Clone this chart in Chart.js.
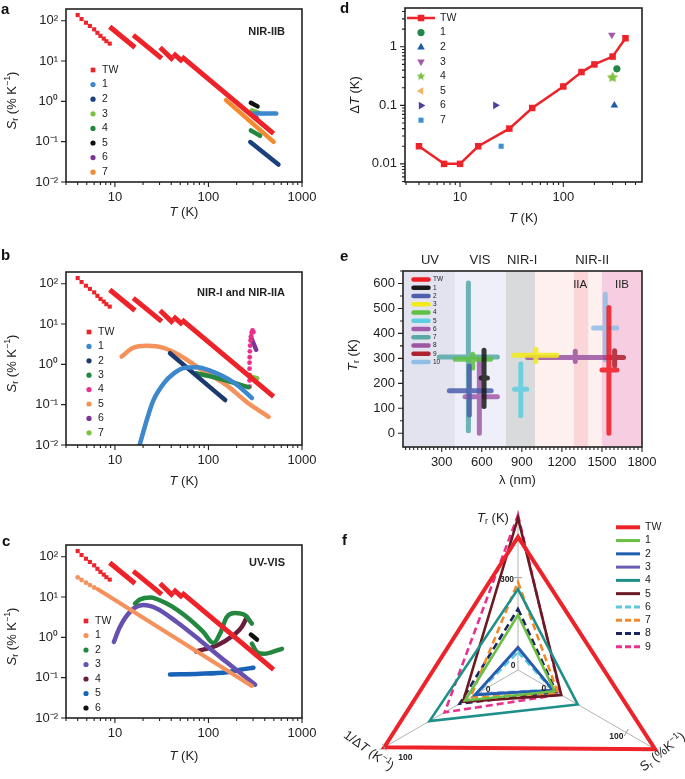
<!DOCTYPE html>
<html>
<head>
<meta charset="utf-8">
<title>Thermometer comparison</title>
<script src="https://cdn.jsdelivr.net/npm/chart.js@4.4.1/dist/chart.umd.min.js"></script>
<style>
  html, body { margin: 0; padding: 0; background: #fff; width: 685px; height: 779px; overflow: hidden; }
  canvas { position: absolute; }
  .tag { position: absolute; font: bold 15px 'Liberation Sans', Arial, sans-serif; line-height: 15px; color: #111; }
</style>
</head>
<body>
<canvas id="pa" width="340" height="240" style="left:0;top:-12px"></canvas>
<canvas id="pb" width="340" height="240" style="left:0;top:251px"></canvas>
<canvas id="pc" width="340" height="240" style="left:0;top:524px"></canvas>
<canvas id="pd" width="345" height="240" style="left:340px;top:-13px"></canvas>
<canvas id="pe" width="345" height="250" style="left:340px;top:250px"></canvas>
<canvas id="pf" width="345" height="350" style="left:340px;top:500px"></canvas>
<div class="tag" style="left:1px;top:1px">a</div>
<div class="tag" style="left:1px;top:247px">b</div>
<div class="tag" style="left:2px;top:533px">c</div>
<div class="tag" style="left:340px;top:0px">d</div>
<div class="tag" style="left:340px;top:248px">e</div>
<div class="tag" style="left:342px;top:532px">f</div>
<script>
const FONT = "'Liberation Sans', Arial, Helvetica, sans-serif";
const INK = '#222';
const RED = '#ee2229';

// ---- TW (this work), shared by a, b, c ----
const twDotT = [4, 4.4, 4.9, 5.4, 6, 6.5, 7, 7.6, 8.1, 8.8];
const twDotS = [138, 110, 89, 74, 61, 50, 42, 36, 31, 27];
const twSegT = [[8.8, 16.4], [15.7, 31.6], [30.4, 42], [42, 53], [51.8, 497]];
const twSegS = [[71, 21.7], [44, 11.6], [21.7, 10.5], [15.4, 9.6], [12.8, 0.158]];

// ---- a : NIR-IIB ----
const aLabels = ['TW', '1', '2', '3', '4', '5', '6', '7'];
const aColors = [RED, '#3d87cc', '#1c3f7e', '#7cc242', '#24873f', '#111111', '#7b3596', '#f28a2e'];
const aT = [null, [280, 530], [280, 560], [290, 345], [284, 356], [284, 335], [293, 330], [154, 497]];
const aS = [null, [0.5, 0.5], [0.098, 0.027], [0.6, 0.52], [0.19, 0.14], [0.92, 0.75], [0.46, 0.38], [1.07, 0.099]];

// ---- b : NIR-I and NIR-IIA ----
const bLabels = ['TW', '1', '2', '3', '4', '5', '6', '7'];
const bColors = [RED, '#3d87cc', '#1c3a6e', '#24873f', '#ea2f8c', '#f5915b', '#7b3596', '#7cc242'];
const b1T = [18.5, 21.8, 25.7, 33, 42, 56, 75, 104, 185, 291];
const b1S = [0.0106, 0.04, 0.126, 0.33, 0.58, 0.82, 0.85, 0.7, 0.36, 0.147];
const b2T = [38.8, 151];
const b2S = [1.89, 0.13];
const b3T = [73.8, 133, 268];
const b3S = [0.6, 0.44, 0.27];
const b4T = [275, 275, 275, 275, 275, 276, 277, 279, 282, 286, 290, 296, 303];
const b4S = [0.28, 0.4, 0.55, 0.78, 1.1, 1.5, 2.1, 2.9, 3.9, 5.0, 6.2, 6.9, 6.3];
const b5T = [11.8, 15.7, 21.8, 33, 49.7, 81.5, 157, 258, 440];
const b5S = [1.56, 2.57, 2.88, 2.57, 1.66, 0.77, 0.3, 0.115, 0.05];
const b6T = [284, 324];
const b6S = [4.7, 2.3];
const b7T = [280, 330];
const b7S = [0.5, 0.45];

// ---- c : UV-VIS ----
const cLabels = ['TW', '1', '2', '3', '4', '5', '6'];
const cColors = [RED, '#f5915b', '#24873f', '#6650b0', '#6b1d3c', '#1862b8', '#111111'];
const c1DotT = [4, 4.4, 4.9, 5.4, 6];
const c1DotS = [30.7, 26.4, 22.7, 19.8, 17.2];
const c1T = [6.5, 291];
const c1S = [15.8, 0.062];
const c2aT = [16.4, 18.5, 23.7, 35.8, 58.6, 88, 113, 133, 157, 193, 247, 291];
const c2aS = [6.9, 8.7, 9.8, 6.9, 3.2, 1.36, 0.72, 1.24, 3.2, 4.0, 3.5, 2.2];
const c2bT = [291, 330, 388, 477, 611];
const c2bS = [0.7, 0.43, 0.39, 0.43, 0.52];
const c3T = [9.75, 11.3, 14.5, 20.1, 27.9, 45.8, 81.5, 157, 316];
const c3S = [0.77, 1.8, 4.3, 6.3, 5.2, 2.4, 0.84, 0.24, 0.067];
const c4T = [73.8, 123, 185, 227, 258];
const c4S = [0.45, 0.63, 1.12, 1.8, 3.2];
const c5T = [38.8, 81.5, 157, 218, 303];
const c5S = [0.12, 0.125, 0.137, 0.157, 0.177];
const c6T = [284, 330];
const c6S = [1.17, 0.88];

// ---- d : temperature resolution ----
const dLabels = ['TW', '1', '2', '3', '4', '5', '6', '7'];
const dColors = [RED, '#22884a', '#1f5ba8', '#a35bab', '#7cc242', '#f2b56b', '#4b3f9e', '#3f8fd2'];
const dTwT = [4, 7, 10, 15, 30, 50, 100, 150, 200, 300, 400];
const dTwDT = [0.02, 0.01, 0.01, 0.02, 0.04, 0.09, 0.21, 0.37, 0.5, 0.68, 1.4];
const dRefT = [330, 312, 295, 300, 296, 22, 25];
const dRefDT = [0.42, 0.1, 1.6, 0.3, 0.3, 0.1, 0.02];
const dMarks = ['circle', 'triangle', 'triangle', 'star', 'triangle', 'triangle', 'rect'];
const dRot = [0, 0, 180, 0, 270, 90, 0];

// ---- e : operating window ----
const eLabels = ['TW', '1', '2', '3', '4', '5', '6', '7', '8', '9', '10'];
const eColors = ['#ee1c25', '#1a1a1a', '#4f5fae', '#f2ea1c', '#5ec044', '#5dcde0', '#a35bab', '#5aa9a8', '#9b56a3', '#b0202e', '#8fbde6'];
const eLamA = [1500, 595, 357, 842, 400, 845, 475, 282, 942, 1525, 1437];
const eLamB = [1612, 642, 670, 1162, 667, 937, 717, 717, 1550, 1662, 1612];
const eTH = [253, 221, 170, 313, 296, 176, 146, 306, 304, 304, 422];
const eLamV = [1552, 617, 507, 1005, 532, 892, 582, 500, 1300, 1595, 1525];
const eTlo = [0, 107, 73, 287, 261, 70, 0, 10, 287, 271, 293];
const eThi = [504, 333, 269, 337, 317, 277, 293, 602, 329, 331, 557];
const eBandFrom = [10, 400, 780, 1000, 1290, 1400, 1500];
const eBandTo = [400, 780, 1000, 1290, 1400, 1500, 1800];
const eBandColor = ['#e2e3ef', '#eeeff8', '#d9dadb', '#fdf0ef', '#fad6d9', '#fdf0ef', '#f7cde1'];
const eZoneText = ['UV', 'VIS', 'NIR-I', 'NIR-II'];
const eZoneAt = [212, 587, 902, 1427];
const eSubText = ['IIA', 'IIB'];
const eSubAt = [1337, 1650];

// ---- f : radar ----
const fLabels = ['TW', '1', '2', '3', '4', '5', '6', '7', '8', '9'];
const fColors = [RED, '#6cbf45', '#1f5fb0', '#6a5bb5', '#1f8f8a', '#6b1a22', '#5ec8e0', '#f08a2c', '#1d2560', '#e8318a'];
const fDashed = [false, false, false, false, false, false, true, true, true, true];
const fTr = [440, 172, 59, 62, 261, 505, 45, 285, 193, 515];
const fSr = [135, 13, 11, 11, 41, 21, 10, 17, 15, 20];
const fInv = [100, 25, 16, 15, 58, 27, 14, 20, 30, 44];
const fAxisZero = [3, 18.75, 18.75];
const fAxisGain = [0.1823, 0.594, 0.7775];

// ---- tick labels ----
const tMajor = [10, 100, 1000];
const tLabels = ['10', '100', '1000'];
const sMajor = [0.01, 0.1, 1, 10, 100];
const sLabels = ['10⁻²', '10⁻¹', '10⁰', '10¹', '10²'];
const dxMajor = [10, 100];
const dxLabels = ['10', '100'];
const dyMajor = [0.01, 0.1, 1];
const dyLabels = ['0.01', '0.1', '1'];
const exMajor = [300, 600, 900, 1200, 1500, 1800];
const exLabels = ['300', '600', '900', '1200', '1500', '1800'];
const eyMajor = [0, 100, 200, 300, 400, 500, 600];
const eyLabels = ['0', '100', '200', '300', '400', '500', '600'];

Chart.defaults.font.family = FONT;
Chart.defaults.font.size = 13;
Chart.defaults.color = INK;
Chart.defaults.animation = false;
Chart.defaults.responsive = false;
Chart.defaults.events = [];
Chart.defaults.plugins.legend.display = false;
Chart.defaults.plugins.tooltip.enabled = false;

function xy(T, S) { return T.map((t, i) => ({ x: t, y: S[i] })); }

function curve(T, S, color, w, cap) {
  return { data: xy(T, S), borderColor: color, borderWidth: w || 4.5, pointRadius: 0,
    cubicInterpolationMode: 'monotone', borderCapStyle: cap || 'round', fill: false };
}

function dots(T, S, color, r, style) {
  return { data: xy(T, S), showLine: false, pointStyle: style || 'circle', pointRadius: r,
    pointBackgroundColor: color, pointBorderWidth: 0 };
}

function twSets() {
  const sets = [dots(twDotT, twDotS, RED, 2.9, 'rect')];
  twSegT.forEach((T, k) => sets.push(curve(T, twSegS[k], RED, 5, 'butt')));
  return sets;
}

function decadeTicks(lo, hi) {
  const out = [];
  for (let e = Math.floor(Math.log10(lo)); e <= Math.ceil(Math.log10(hi)); e++) {
    for (let m = 1; m <= 9; m++) {
      const v = Number((m * Math.pow(10, e)).toPrecision(6));
      if (v >= lo && v <= hi) out.push(v);
    }
  }
  return out;
}

function stepTicks(from, to, step) {
  const out = [];
  for (let v = from; v <= to; v += step) out.push(v);
  return out;
}

function isMajor(v, majors) { return majors.some(m => Math.abs(m - v) <= Math.abs(m) * 1e-6 + 1e-9); }

function labelFor(v, majors, labels) {
  const i = majors.findIndex(m => Math.abs(m - v) <= Math.abs(m) * 1e-6 + 1e-9);
  return i >= 0 ? labels[i] : '';
}

function axisOpts(type, pos, min, max, list, majors, labels, size) {
  return {
    type: type, position: pos, min: min, max: max,
    afterBuildTicks: s => { s.ticks = list.map(v => ({ value: v })); },
    afterFit: s => { if (pos === 'left') s.width = size; else s.height = size; },
    ticks: { autoSkip: false, maxRotation: 0, minRotation: 0, padding: 3, color: INK,
      callback: v => labelFor(v, majors, labels) },
    grid: { drawOnChartArea: false, drawTicks: true, tickLength: 5, tickColor: 'rgba(0,0,0,0)' },
    border: { display: false }
  };
}

// text with italic / sub / sup runs
function rich(ctx, parts, x, y, size, rot, align, weight) {
  ctx.save();
  ctx.translate(x, y);
  if (rot) ctx.rotate(rot);
  const fonts = parts.map(p => {
    const small = p[1] === 'sub' || p[1] === 'sup';
    return (p[1] === 'i' ? 'italic ' : '') + (weight ? weight + ' ' : '') + (small ? size * 0.68 : size) + 'px ' + FONT;
  });
  const widths = parts.map((p, i) => { ctx.font = fonts[i]; return ctx.measureText(p[0]).width; });
  const total = widths.reduce((a, b) => a + b, 0);
  let cx = align === 'left' ? 0 : align === 'right' ? -total : -total / 2;
  ctx.fillStyle = INK;
  ctx.textBaseline = 'middle';
  ctx.textAlign = 'left';
  parts.forEach((p, i) => {
    ctx.font = fonts[i];
    const dy = p[1] === 'sub' ? size * 0.28 : p[1] === 'sup' ? -size * 0.32 : 0;
    ctx.fillText(p[0], cx, dy);
    cx += widths[i];
  });
  ctx.restore();
}

function drawTicks(chart, xMaj, yMaj) {
  const { ctx, chartArea: ca, scales } = chart;
  ctx.save();
  ctx.strokeStyle = INK;
  ctx.lineWidth = 1.1;
  ctx.beginPath();
  scales.x.ticks.forEach(t => {
    const p = scales.x.getPixelForValue(t.value);
    const len = isMajor(t.value, xMaj) ? 5 : 3;
    ctx.moveTo(p, ca.bottom); ctx.lineTo(p, ca.bottom + len);
  });
  scales.y.ticks.forEach(t => {
    const p = scales.y.getPixelForValue(t.value);
    const len = isMajor(t.value, yMaj) ? 5 : 3;
    ctx.moveTo(ca.left, p); ctx.lineTo(ca.left - len, p);
  });
  ctx.stroke();
  ctx.lineWidth = 1.6;
  ctx.strokeRect(ca.left, ca.top, ca.right - ca.left, ca.bottom - ca.top);
  ctx.restore();
}

function starImg(color, r) {
  const c = document.createElement('canvas');
  const s = Math.ceil(r * 2 + 2);
  c.width = c.height = s;
  const g = c.getContext('2d');
  g.fillStyle = color;
  g.beginPath();
  for (let i = 0; i < 10; i++) {
    const a = -Math.PI / 2 + i * Math.PI / 5;
    const rr = i % 2 ? r * 0.45 : r;
    g.lineTo(s / 2 + rr * Math.cos(a), s / 2 + rr * Math.sin(a));
  }
  g.closePath();
  g.fill();
  return c;
}

function drawMark(ctx, kind, x, y, r, color, rot) {
  ctx.save();
  ctx.fillStyle = color;
  ctx.beginPath();
  if (kind === 'circle') {
    ctx.arc(x, y, r, 0, Math.PI * 2);
  } else if (kind === 'rect') {
    const h = r * Math.SQRT1_2;
    ctx.rect(x - h, y - h, 2 * h, 2 * h);
  } else if (kind === 'triangle') {
    let a = (rot || 0) * Math.PI / 180;
    for (let k = 0; k < 3; k++) {
      ctx.lineTo(x + Math.sin(a) * r, y - Math.cos(a) * r);
      a += Math.PI * 2 / 3;
    }
    ctx.closePath();
  }
  ctx.fill();
  if (kind === 'star') {
    const img = starImg(color, r + 1);
    ctx.drawImage(img, x - img.width / 2, y - img.height / 2);
  }
  ctx.restore();
}

const SR_TITLE = [['S', 'i'], ['r', 'sub'], [' (% K', ''], ['−1', 'sup'], [')', '']];
const T_TITLE = [['T', 'i'], [' (K)', '']];

function logPanel(id, sets, cfg) {
  new Chart(document.getElementById(id), {
    type: 'line',
    data: { datasets: sets },
    options: {
      layout: { padding: { left: 0, top: 21, right: 38, bottom: 0 } },
      scales: {
        x: axisOpts('logarithmic', 'bottom', 3, 1000, decadeTicks(3, 1000), tMajor, tLabels, 46),
        y: axisOpts('logarithmic', 'left', 0.01, 195, sMajor, sMajor, sLabels, 66)
      }
    },
    plugins: [{
      id: 'deco',
      afterDraw(chart) {
        const { ctx, chartArea: ca } = chart;
        drawTicks(chart, tMajor, sMajor);
        cfg.labels.forEach((lab, i) => {
          const x = ca.left + cfg.lx, y = ca.top + cfg.ly + i * cfg.gap;
          drawMark(ctx, i === 0 ? 'rect' : 'circle', x, y, i === 0 ? 3.3 : 2.6, cfg.colors[i]);
          rich(ctx, [[lab, '']], x + 9, y, 10.5, 0, 'left');
        });
        rich(ctx, [[cfg.tag, '']], ca.right - 17, ca.top + cfg.tagDy, 11, 0, 'right', 'bold');
        rich(ctx, T_TITLE, (ca.left + ca.right) / 2, ca.bottom + cfg.xDy, 13);
        rich(ctx, SR_TITLE, 12, (ca.top + ca.bottom) / 2 + 5, 13, -Math.PI / 2);
      }
    }]
  });
}

// ---------- a ----------
logPanel('pa', twSets().concat(aT.slice(1).map((T, k) => curve(T, aS[k + 1], aColors[k + 1], 4.5))), {
  labels: aLabels, colors: aColors, lx: 27, ly: 61, gap: 14.6, tag: 'NIR-IIB', tagDy: 23, xDy: 30
});

// ---------- b ----------
logPanel('pb', twSets().concat([
  curve(b1T, b1S, bColors[1]),
  curve(b2T, b2S, bColors[2]),
  curve(b3T, b3S, bColors[3]),
  dots(b4T, b4S, bColors[4], 2.4),
  curve(b5T, b5S, bColors[5]),
  curve(b6T, b6S, bColors[6]),
  curve(b7T, b7S, bColors[7], 5)
]), { labels: bLabels, colors: bColors, lx: 23, ly: 60, gap: 14.4, tag: 'NIR-I and NIR-IIA', tagDy: 21, xDy: 36 });

// ---------- c ----------
logPanel('pc', twSets().concat([
  dots(c1DotT, c1DotS, cColors[1], 2.4),
  curve(c1T, c1S, cColors[1], 4),
  curve(c2aT, c2aS, cColors[2]),
  curve(c2bT, c2bS, cColors[2]),
  curve(c3T, c3S, cColors[3]),
  curve(c4T, c4S, cColors[4]),
  curve(c5T, c5S, cColors[5]),
  curve(c6T, c6S, cColors[6])
]), { labels: cLabels, colors: cColors, lx: 20, ly: 76, gap: 14.5, tag: 'UV-VIS', tagDy: 18, xDy: 38 });

// ---------- d ----------
new Chart(document.getElementById('pd'), {
  type: 'line',
  data: {
    datasets: [{
      data: xy(dTwT, dTwDT), borderColor: RED, borderWidth: 2.5, tension: 0,
      pointStyle: 'rect', pointRadius: 4.6, pointBackgroundColor: RED, pointBorderWidth: 0
    }].concat(dRefT.map((t, i) => ({
      data: [{ x: t, y: dRefDT[i] }], showLine: false,
      pointStyle: dMarks[i] === 'star' ? starImg(dColors[i + 1], 6) : dMarks[i],
      pointRotation: dRot[i], pointRadius: dMarks[i] === 'triangle' ? 4.4 : 3.6,
      pointBackgroundColor: dColors[i + 1], pointBorderWidth: 0
    })))
  },
  options: {
    layout: { padding: { left: 0, top: 21, right: 43, bottom: 0 } },
    scales: {
      x: axisOpts('logarithmic', 'bottom', 2.93, 578, decadeTicks(2.93, 578), dxMajor, dxLabels, 45),
      y: axisOpts('logarithmic', 'left', 0.0049, 4.6, decadeTicks(0.0049, 4.6), dyMajor, dyLabels, 65)
    }
  },
  plugins: [{
    id: 'decoD',
    afterDraw(chart) {
      const { ctx, chartArea: ca } = chart;
      drawTicks(chart, dxMajor, dyMajor);
      dLabels.forEach((lab, i) => {
        const x = ca.left + 16, y = ca.top + 10 + i * 14.6;
        if (i === 0) {
          ctx.save(); ctx.strokeStyle = RED; ctx.lineWidth = 2.5;
          ctx.beginPath(); ctx.moveTo(x - 14, y); ctx.lineTo(x + 14, y); ctx.stroke(); ctx.restore();
          drawMark(ctx, 'rect', x, y, 4.6, RED);
        } else {
          drawMark(ctx, dMarks[i - 1], x, y, dMarks[i - 1] === 'triangle' ? 4.4 : 3.6, dColors[i], dRot[i - 1]);
        }
        rich(ctx, [[lab, '']], ca.left + 35, y, 10.5, 0, 'left');
      });
      rich(ctx, T_TITLE, (ca.left + ca.right) / 2, ca.bottom + 36, 13);
      rich(ctx, [['Δ', ''], ['T', 'i'], [' (K)', '']], 15, (ca.top + ca.bottom) / 2, 13, -Math.PI / 2);
    }
  }]
});

// ---------- e ----------
new Chart(document.getElementById('pe'), {
  type: 'line',
  data: {
    datasets: eLabels.map((lab, i) => ({
      data: [
        { x: eLamA[i], y: eTH[i] }, { x: eLamB[i], y: eTH[i] },
        { x: eLamV[i], y: null },
        { x: eLamV[i], y: eTlo[i] }, { x: eLamV[i], y: eThi[i] }
      ],
      borderColor: eColors[i] + 'dd', borderWidth: 5, pointRadius: 0, borderCapStyle: 'round',
      spanGaps: false, tension: 0
    }))
  },
  options: {
    layout: { padding: { left: 0, top: 21, right: 43, bottom: 0 } },
    scales: {
      x: axisOpts('linear', 'bottom', 10, 1800, stepTicks(30, 1800, 30), exMajor, exLabels, 53),
      y: axisOpts('linear', 'left', -55, 650, stepTicks(0, 650, 50), eyMajor, eyLabels, 63)
    }
  },
  plugins: [{
    id: 'decoE',
    beforeDatasetsDraw(chart) {
      const { ctx, chartArea: ca, scales: { x } } = chart;
      ctx.save();
      eBandFrom.forEach((a, i) => {
        const x0 = x.getPixelForValue(a), x1 = x.getPixelForValue(eBandTo[i]);
        ctx.fillStyle = eBandColor[i];
        ctx.fillRect(x0, ca.top, x1 - x0, ca.bottom - ca.top);
      });
      ctx.restore();
    },
    afterDraw(chart) {
      const { ctx, chartArea: ca, scales: { x } } = chart;
      drawTicks(chart, exMajor, eyMajor);
      eZoneText.forEach((t, i) => rich(ctx, [[t, '']], x.getPixelForValue(eZoneAt[i]), ca.top - 10.5, 13));
      eSubText.forEach((t, i) => rich(ctx, [[t, '']], x.getPixelForValue(eSubAt[i]), ca.top + 13.5, 11.5));
      eLabels.forEach((lab, i) => {
        const y = ca.top + 8.6 + i * 8.24;
        ctx.save();
        ctx.strokeStyle = eColors[i]; ctx.lineWidth = 4.5; ctx.lineCap = 'round';
        ctx.beginPath(); ctx.moveTo(ca.left + 10.5, y); ctx.lineTo(ca.left + 25.5, y); ctx.stroke();
        ctx.restore();
        rich(ctx, [[lab, '']], ca.left + 30, y, 6.5, 0, 'left');
      });
      rich(ctx, [['λ (nm)', '']], (ca.left + ca.right) / 2 - 5, ca.bottom + 33, 13);
      rich(ctx, [['T', 'i'], ['r', 'sub'], [' (K)', '']], 13, (ca.top + ca.bottom) / 2 - 4, 13, -Math.PI / 2);
    }
  }]
});

// ---------- f ----------
function toR(axis, v) { return fAxisZero[axis] + v * fAxisGain[axis]; }

new Chart(document.getElementById('pf'), {
  type: 'radar',
  data: {
    labels: ['Tr', 'Sr', '1/ΔT'],
    datasets: fLabels.map((lab, i) => ({
      data: [toR(0, fTr[i]), toR(1, fSr[i]), toR(2, fInv[i])],
      borderColor: fColors[i], borderWidth: i === 0 ? 4 : 2.6,
      borderDash: fDashed[i] ? [7, 4] : [], pointRadius: 0, fill: false, tension: 0,
      borderJoinStyle: 'miter'
    }))
  },
  options: {
    layout: { padding: { left: 18, top: 10, right: 7, bottom: 20 } },
    scales: {
      r: {
        min: 0, max: 100,
        ticks: { display: false },
        grid: { display: false },
        angleLines: { display: true, color: '#b3b3b3', lineWidth: 1 },
        pointLabels: { display: false }
      }
    }
  },
  plugins: [{
    id: 'decoF',
    afterDraw(chart) {
      const { ctx } = chart;
      const r = chart.scales.r;
      const at = (axis, v) => r.getPointPosition(axis, r.getDistanceFromCenterForValue(toR(axis, v)));
      // axis ticks
      ctx.save();
      ctx.strokeStyle = '#999'; ctx.lineWidth = 1;
      [[0, 300], [1, 100], [2, 100]].forEach(([axis, v]) => {
        const p = at(axis, v);
        const ang = r.getIndexAngle(axis) - Math.PI / 2;
        const nx = -Math.sin(ang) * 4, ny = Math.cos(ang) * 4;
        ctx.beginPath(); ctx.moveTo(p.x - nx, p.y - ny); ctx.lineTo(p.x + nx, p.y + ny); ctx.stroke();
      });
      ctx.restore();
      const p300 = at(0, 300), p0a = at(0, 0), p0b = at(1, 0), p0c = at(2, 0), p100b = at(1, 100), p100c = at(2, 100);
      rich(ctx, [['300', '']], p300.x - 11, p300.y + 2, 8.5, 0, 'center', 'bold');
      rich(ctx, [['0', '']], p0a.x - 5, p0a.y, 8.5, 0, 'center', 'bold');
      rich(ctx, [['0', '']], p0b.x, p0b.y + 4, 8.5, 0, 'center', 'bold');
      rich(ctx, [['0', '']], p0c.x - 4, p0c.y + 4.5, 8.5, 0, 'center', 'bold');
      rich(ctx, [['100', '']], p100b.x - 10, p100b.y + 4.5, 8.5, 0, 'center', 'bold');
      rich(ctx, [['100', '']], p100c.x + 21, p100c.y + 10, 8.5, 0, 'center', 'bold');
      // axis titles
      const top = r.getPointPosition(0, r.drawingArea);
      const br = r.getPointPosition(1, r.drawingArea);
      const bl = r.getPointPosition(2, r.drawingArea);
      rich(ctx, [['T', 'i'], ['r', 'sub'], [' (K)', '']], top.x - 25, top.y + 8, 13);
      rich(ctx, [['S', 'i'], ['r', 'sub'], [' (%K', ''], ['−1', 'sup'], [')', '']], br.x + 6, br.y + 2, 13, -38.6 * Math.PI / 180);
      rich(ctx, [['1/Δ', ''], ['T', 'i'], [' (K', ''], ['−1', 'sup'], [')', '']], bl.x - 11, bl.y + 1, 13, 36 * Math.PI / 180);
      // legend
      fLabels.forEach((lab, i) => {
        const y = 27.3 + i * 13.27;
        ctx.save();
        ctx.strokeStyle = fColors[i]; ctx.lineWidth = i === 0 ? 4 : 3;
        ctx.setLineDash(fDashed[i] ? [6, 3] : []);
        ctx.beginPath(); ctx.moveTo(276, y); ctx.lineTo(300, y); ctx.stroke();
        ctx.restore();
        rich(ctx, [[lab, '']], 305, y, 10.5, 0, 'left');
      });
    }
  }]
});
</script>
</body>
</html>
